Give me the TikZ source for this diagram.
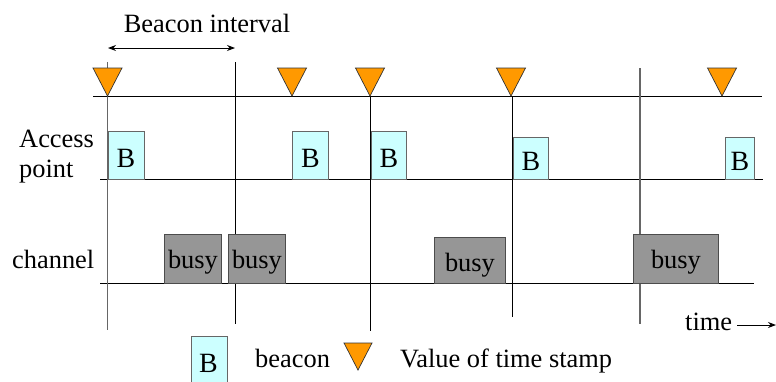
\documentclass[tikz,border=0pt]{standalone}
\usepackage{fontspec}
\setmainfont{Liberation Serif}
\usetikzlibrary{arrows.meta}
\begin{document}
\begin{tikzpicture}[x=1bp,y=-1bp,
  txt/.style={font=\fontsize{26.5}{28}\selectfont, inner sep=0pt},
  btxt/.style={font=\fontsize{28}{30}\selectfont, inner sep=0pt},
  axis/.style={line width=1bp},
  gline/.style={line width=1.2bp, draw=black!60}]
\useasboundingbox (0,0) rectangle (776,381);
\definecolor{tsorange}{HTML}{FF9900}
\definecolor{bcyan}{HTML}{CCFFFF}
\definecolor{busygray}{HTML}{969696}
\tikzset{ts/.style={draw=black!80, fill=tsorange, line width=0.7bp},
  bbox/.style={draw=black!60, fill=bcyan, line width=0.9bp, inner sep=0pt},
  busybox/.style={draw=black!70, fill=busygray, line width=0.9bp, inner sep=0pt}}
% horizontal lines
\coordinate (h1a) at (93,96.5); \coordinate (h1b) at (762,96.5);
\coordinate (h2a) at (100,179); \coordinate (h2b) at (763,179);
\coordinate (h3a) at (100,283); \coordinate (h3b) at (754,283);
\draw[axis] (h1a) -- (h1b);
\draw[axis] (h2a) -- (h2b);
\draw[axis] (h3a) -- (h3b);
% vertical lines
\coordinate (v1a) at (107.5,62); \coordinate (v1b) at (107.5,330);
\coordinate (v2a) at (235.5,62); \coordinate (v2b) at (235.5,324);
\coordinate (v3a) at (370,96.5); \coordinate (v3b) at (370,331);
\coordinate (v4a) at (512,96.5); \coordinate (v4b) at (512,317);
\coordinate (v5a) at (640,68); \coordinate (v5b) at (640,324);
\draw[gline] (v1a) -- (v1b);
\draw[axis] (v2a) -- (v2b);
\draw[axis] (v3a) -- (v3b);
\draw[axis] (v4a) -- (v4b);
\draw[gline] (v5a) -- (v5b);
% beacon interval
\node[txt, anchor=base] (bi) at (207,32) {Beacon interval};
\coordinate (bia) at (108,48); \coordinate (bib) at (235,48);
\draw[line width=0.9bp, {Stealth[length=8bp,width=6bp]}-{Stealth[length=8bp,width=6bp]}] (bia) -- (bib);
% timestamps
\foreach \x/\n in {107.5/1,292/2,370/3,511/4,722/5}{
  \draw[ts] (\x-14.5,68) -- (\x+14.5,68) -- (\x,96) -- cycle;
}
% beacons
\node[bbox, minimum width=36bp, minimum height=48bp, anchor=north west] (b1) at (107.5,131) {};
\node[btxt, anchor=base] at ([yshift=12bp]b1.south) {B};
\node[bbox, minimum width=36bp, minimum height=48bp, anchor=north west] (b2) at (292,131) {};
\node[btxt, anchor=base] at ([yshift=12bp]b2.south) {B};
\node[bbox, minimum width=35bp, minimum height=48bp, anchor=north west] (b3) at (371,131) {};
\node[btxt, anchor=base] at ([yshift=12bp]b3.south) {B};
\node[bbox, minimum width=35bp, minimum height=42bp, anchor=north west] (b4) at (513,137) {};
\node[btxt, anchor=base] at ([yshift=9bp]b4.south) {B};
\node[bbox, minimum width=29bp, minimum height=42bp, anchor=north west] (b5) at (725,137) {};
\node[btxt, anchor=base] at ([yshift=9bp]b5.south) {B};
% busy
\node[busybox, minimum width=57bp, minimum height=49bp, anchor=north west] (c1) at (164,234) {};
\node[txt, anchor=base] at ([yshift=15bp]c1.south) {busy};
\node[busybox, minimum width=57bp, minimum height=49bp, anchor=north west] (c2) at (228,234) {};
\node[txt, anchor=base] at ([yshift=15bp]c2.south) {busy};
\node[busybox, minimum width=71bp, minimum height=46bp, anchor=north west] (c3) at (434,237) {};
\node[txt, anchor=base] at ([yshift=12bp]c3.south) {busy};
\node[busybox, minimum width=85bp, minimum height=49bp, anchor=north west] (c4) at (633,234) {};
\node[txt, anchor=base] at ([yshift=15bp]c4.south) {busy};
% row labels
\node[txt, anchor=base west] (ap1) at (19,147) {Access};
\node[txt, anchor=base west] (ap2) at (19,177) {point};
\node[txt, anchor=base west] (ch) at (12,268) {channel};
% time arrow
\node[txt, anchor=base west] (tm) at (685,330) {time};
\coordinate (ta) at (776,325);
\draw[line width=0.9bp, -{Stealth[length=8bp,width=6bp]}] ([xshift=5bp]tm.east |- ta) -- (ta);
% legend
\node[bbox, minimum width=36bp, minimum height=46bp, anchor=north west] (lb) at (190.5,336) {};
\node[btxt, anchor=base] at (208.5,372) {B};
\node[txt, anchor=base west] (lbt) at (255,367) {beacon};
\draw[ts] (344,343) -- (372,343) -- (358,370) -- cycle;
\node[txt, anchor=base west] (lvt) at (400,367) {Value of time stamp};
\end{tikzpicture}
\end{document}
